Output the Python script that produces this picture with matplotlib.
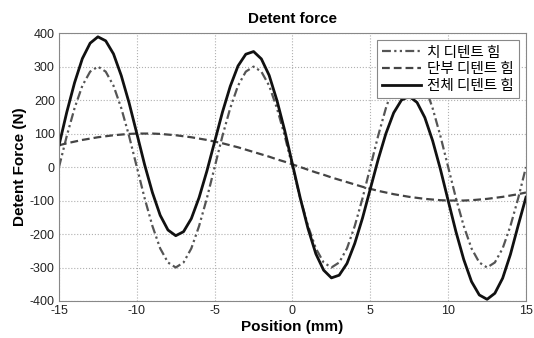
import matplotlib
matplotlib.use("Agg")
import matplotlib.pyplot as plt

plt.rcParams['font.family'] = ['Liberation Sans', 'Noto Sans CJK KR', 'DejaVu Sans']
plt.rcParams['axes.unicode_minus'] = False

position = [-15.0, -14.5, -14.0, -13.5, -13.0, -12.5, -12.0, -11.5, -11.0, -10.5,
            -10.0, -9.5, -9.0, -8.5, -8.0, -7.5, -7.0, -6.5, -6.0, -5.5,
            -5.0, -4.5, -4.0, -3.5, -3.0, -2.5, -2.0, -1.5, -1.0, -0.5,
            0.0, 0.5, 1.0, 1.5, 2.0, 2.5, 3.0, 3.5, 4.0, 4.5,
            5.0, 5.5, 6.0, 6.5, 7.0, 7.5, 8.0, 8.5, 9.0, 9.5,
            10.0, 10.5, 11.0, 11.5, 12.0, 12.5, 13.0, 13.5, 14.0, 14.5, 15.0]

tooth_force = [0, 93, 176, 243, 285, 300, 285, 243, 176, 93,
               0, -93, -176, -243, -285, -300, -285, -243, -176, -93,
               0, 93, 176, 243, 285, 300, 285, 243, 176, 93,
               0, -93, -176, -243, -285, -300, -285, -243, -176, -93,
               0, 93, 176, 243, 285, 300, 285, 243, 176, 93,
               0, -93, -176, -243, -285, -300, -285, -243, -176, -93, 0]

end_force = [65, 71, 76, 81, 85, 89, 92, 95, 97, 99,
             100, 100, 100, 99, 97, 95, 92, 89, 85, 81,
             76, 71, 65, 59, 52, 45, 38, 31, 23, 16,
             8, 0, -8, -16, -23, -31, -38, -45, -52, -59,
             -65, -71, -76, -81, -85, -89, -92, -95, -97, -99,
             -100, -100, -100, -99, -97, -95, -92, -89, -85, -81, -76]

total_force = [65, 164, 252, 324, 370, 389, 377, 338, 273, 192,
               100, 7, -76, -144, -188, -205, -193, -154, -91, -12,
               76, 164, 241, 302, 337, 345, 323, 274, 199, 109,
               8, -93, -184, -259, -308, -331, -323, -288, -228, -152,
               -65, 22, 100, 162, 200, 211, 193, 148, 79, -6,
               -100, -193, -276, -342, -382, -395, -377, -332, -261, -174, -90]

series_labels = ['치 디텐트 힘', '단부 디텐트 힘', '전체 디텐트 힘']
x_ticks = [-15, -10, -5, 0, 5, 10, 15]
y_ticks = [-400, -300, -200, -100, 0, 100, 200, 300, 400]

fig = plt.figure(figsize=(5.34, 3.38), dpi=100)
ax = fig.add_axes([0.1105, 0.1095, 0.8745, 0.7925])

ax.plot(position, tooth_force, color='#555555', lw=1.6, ls=(0, (4, 1.5, 1, 1.5, 1, 1.5)),
        label=series_labels[0])
ax.plot(position, end_force, color='#444444', lw=1.6, ls=(0, (3.5, 1.8)),
        label=series_labels[1])
ax.plot(position, total_force, color='#111111', lw=2.0, ls='-',
        label=series_labels[2])

ax.set_xlim(-15, 15)
ax.set_ylim(-400, 400)
ax.set_xticks(x_ticks)
ax.set_yticks(y_ticks)
ax.tick_params(labelsize=9, length=0, pad=3, colors='#222222')
ax.grid(True, color='#b0b0b0', ls=':', lw=0.8)
for s in ax.spines.values():
    s.set_color('#888888')
    s.set_linewidth(0.8)

ax.set_title('Detent force', fontsize=11, fontweight='bold', pad=7)
ax.set_xlabel('Position (mm)', fontsize=11, fontweight='bold', labelpad=2)
ax.set_ylabel('Detent Force (N)', fontsize=11, fontweight='bold', labelpad=2)

leg = ax.legend(loc='upper right', fancybox=False, framealpha=1,
                edgecolor='#888888', handlelength=2.7, handletextpad=0.4,
                borderaxespad=0.5, borderpad=0.35, labelspacing=0.2,
                prop={'family': ['Noto Sans CJK KR', 'DejaVu Sans'], 'size': 10.5})
leg.get_frame().set_linewidth(0.8)

fig.savefig('out.png', dpi=100)
